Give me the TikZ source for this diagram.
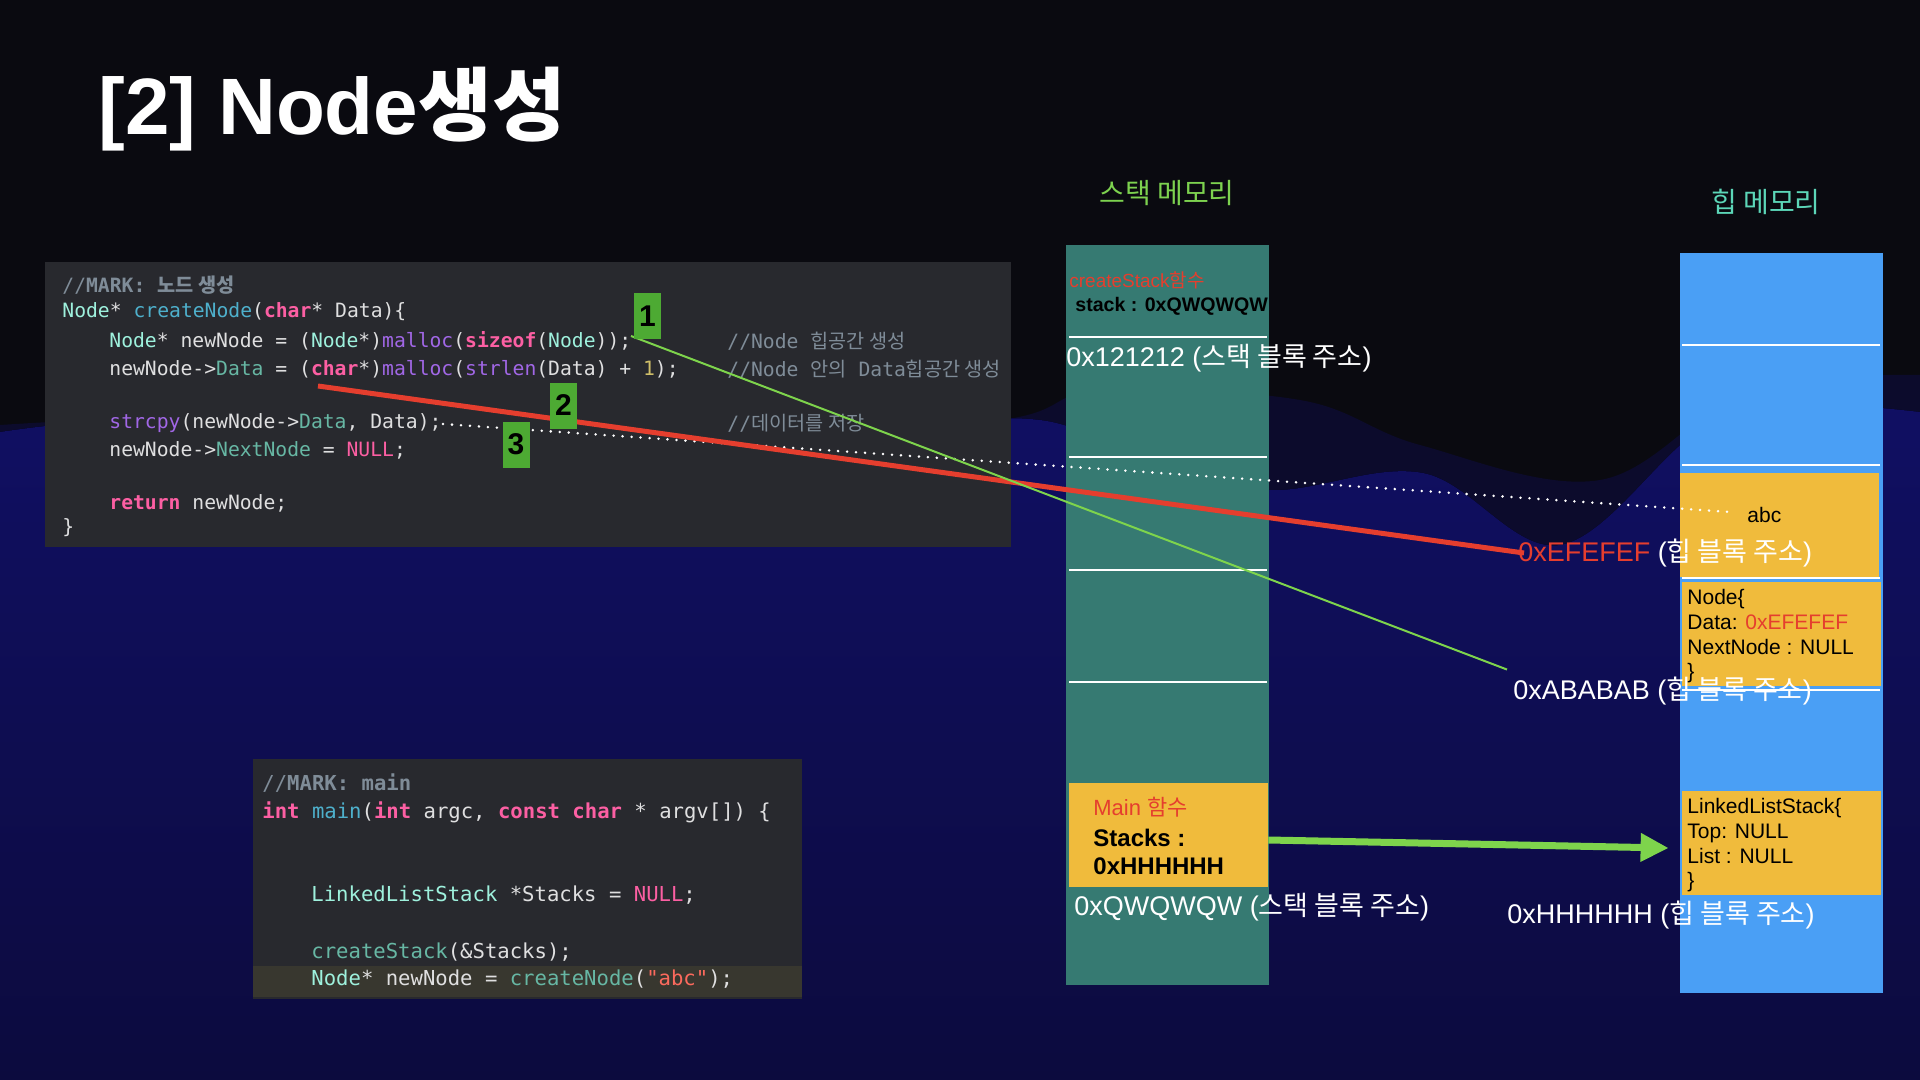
\documentclass[tikz,border=0pt]{standalone}
\usepackage{fontspec}
\setmainfont{Liberation Sans}
\newfontfamily\krfont{Noto Sans CJK KR}
\newfontfamily\codefont{DejaVu Sans Mono}
\usetikzlibrary{arrows.meta}

\definecolor{bgtop}{HTML}{0A0A10}
\definecolor{wavedim}{HTML}{0C0B2C}
\definecolor{wavetop}{HTML}{100F63}
\definecolor{wavebot}{HTML}{0C0B3E}
\definecolor{panel}{HTML}{28292E}
\definecolor{curline}{HTML}{38372F}
\definecolor{stackteal}{HTML}{367A72}
\definecolor{heapblue}{HTML}{4A9FF5}
\definecolor{blockyellow}{HTML}{F0BB3C}
\definecolor{labelred}{HTML}{E53E2E}
\definecolor{linkgreen}{HTML}{7ED44C}
\definecolor{boxgreen}{HTML}{4DAA33}
\definecolor{stacktitle}{HTML}{7DD24F}
\definecolor{heaptitle}{HTML}{5CD6B8}
% editor colours
\definecolor{xplain}{HTML}{DFDFE0}
\definecolor{xcomment}{HTML}{7F8C98}
\definecolor{xkeyword}{HTML}{FC5FA3}
\definecolor{xtype}{HTML}{9EF1DD}
\definecolor{xdecl}{HTML}{4EB0CC}
\definecolor{xproj}{HTML}{67B7A4}
\definecolor{xfunc}{HTML}{A167E6}
\definecolor{xnum}{HTML}{D0BF69}
\definecolor{xstring}{HTML}{FC6A5D}

\newcommand{\hg}[1]{{\krfont #1}}
\newcommand{\ckw}[1]{\textcolor{xkeyword}{\bfseries #1}}
\newcommand{\cmac}[1]{\textcolor{xkeyword}{#1}}
\newcommand{\cty}[1]{\textcolor{xtype}{#1}}
\newcommand{\cdc}[1]{\textcolor{xdecl}{#1}}
\newcommand{\cpf}[1]{\textcolor{xproj}{#1}}
\newcommand{\cfn}[1]{\textcolor{xfunc}{#1}}
\newcommand{\cnum}[1]{\textcolor{xnum}{#1}}
\newcommand{\cstr}[1]{\textcolor{xstring}{#1}}
\newcommand{\ccom}[1]{\textcolor{xcomment}{#1}}
\newcommand{\cmark}[1]{\textcolor{xcomment}{//{\bfseries #1}}}

\begin{document}
\begin{tikzpicture}[
    x=0.5pt, y=-0.5pt,
    title/.style={anchor=base west, inner sep=0, text=white, font=\bfseries\fontsize{40}{40}\selectfont},
    memtitle/.style={inner sep=0, font=\krfont\fontsize{14}{14}\selectfont},
    codeline/.style={anchor=west, inner sep=0, text=xplain, font=\codefont\fontsize{9.85}{12}\selectfont},
    mainline/.style={codeline, font=\codefont\fontsize{10.3}{12}\selectfont},
    column/.style={inner sep=0, minimum width=101.5pt, minimum height=370pt},
    block/.style={fill=blockyellow, inner sep=0, minimum width=99.5pt, minimum height=52pt},
    sep/.style={white, line width=1pt},
    addr/.style={anchor=west, inner sep=0, text=white, font=\fontsize{13.5}{13.5}\selectfont},
    blocktext/.style={anchor=north west, inner sep=0, align=left, font=\fontsize{10.5}{12.35}\selectfont},
    numbox/.style={fill=boxgreen, minimum width=13.5pt, minimum height=23pt, inner sep=0, text=black, font=\bfseries\fontsize{15}{15}\selectfont},
    nodelink/.style={linkgreen, line width=1pt},
    datalink/.style={labelred, line width=2.5pt},
    strlink/.style={white, line width=1.4pt, line cap=round, dash pattern=on 0pt off 4.5pt},
    stacklink/.style={linkgreen, line width=3.5pt, -{Triangle[length=14pt,width=13.5pt]}}
]
    \useasboundingbox (0,0) rectangle (1920,1080);

    % Background
    \fill[bgtop] (0,0) rectangle (1920,1080);
    \fill[wavedim] (0,1080) -- plot[smooth, tension=0.6] coordinates {(0,425) (300,415) (700,440) (1000,420) (1100,390) (1300,400) (1420,445) (1600,480) (1750,390) (1920,375)} -- (1920,1080) -- cycle;
    \fill[top color=wavetop, bottom color=wavebot] (0,1080) -- plot[smooth, tension=0.6] coordinates {(0,432) (150,420) (350,445) (600,470) (900,430) (1040,420) (1150,460) (1270,490) (1423,473) (1560,545) (1700,430) (1800,405) (1920,412)} -- (1920,1080) -- cycle;

    % Title
    \node[title] (title) at (98,135) {[2] Node\hg{생성}};

    % createNode code
    \fill[panel] (45,262) rectangle (1011,547);
    \node[codeline] (cn1) at (62,285) {\cmark{MARK: \hg{노드 생성}}};
    \node[codeline] (cn2) at (62,312) {\cty{Node}* \cdc{createNode}(\ckw{char}* Data)\{};
    \node[codeline] (cn3) at (109,341) {\cty{Node}* newNode = (\cty{Node}*)\cfn{malloc}(\ckw{sizeof}(\cty{Node}));};
    \node[codeline] (cn4) at (109,369) {newNode->\cpf{Data} = (\ckw{char}*)\cfn{malloc}(\cfn{strlen}(Data) + \cnum{1});};
    \node[codeline] (cn5) at (109,423) {\cfn{strcpy}(newNode->\cpf{Data}, Data);};
    \node[codeline] (cn6) at (109,450) {newNode->\cpf{NextNode} = \cmac{NULL};};
    \node[codeline] (cn7) at (109,503) {\ckw{return} newNode;};
    \node[codeline] (cn8) at (62,528) {\}};
    \node[codeline] (cm1) at (727,341) {\ccom{//Node \hg{힙공간 생성}}};
    \node[codeline] (cm2) at (727,369) {\ccom{//Node \hg{안의} Data\hg{힙공간 생성}}};
    \node[codeline] (cm3) at (727,423) {\ccom{//\hg{데이터를 저장}}};

    % main code
    \fill[panel] (253,759) rectangle (802,999);
    \fill[curline] (253,966) rectangle (802,997);
    \node[mainline] (mn1) at (262,783) {\cmark{MARK: main}};
    \node[mainline] (mn2) at (262,812) {\ckw{int} \cdc{main}(\ckw{int} argc, \ckw{const} \ckw{char} * argv[]) \{};
    \node[mainline] (mn3) at (311,895) {\cty{LinkedListStack} *Stacks = \cmac{NULL};};
    \node[mainline] (mn4) at (311,952) {\cpf{createStack}(\&Stacks);};
    \node[mainline] (mn5) at (311,979) {\cty{Node}* newNode = \cpf{createNode}(\cstr{"abc"});};

    % Stack memory
    \node[memtitle, text=stacktitle] (stacktitle) at (1167,193) {스택 메모리};
    \node[column, fill=stackteal] (stackcol) at (1167.5,615) {};
    \foreach \y in {337,457,570,682}
        \draw[sep] (1069,\y) -- (1267,\y);
    \node[anchor=west, inner sep=0, text=labelred, font=\fontsize{9.5}{9.5}\selectfont] (csname) at (1069,280) {createStack\hg{함수}};
    \node[anchor=west, inner sep=0, font=\bfseries\fontsize{9.8}{9.8}\selectfont] (csvar) at (1075,306) {stack : 0xQWQWQW};
    \node[addr] (stackaddr) at (1066,358) {0x121212 (\hg{스택 블록 주소})};
    \node[block] (mainbox) at (1168.5,835) {};
    \node[anchor=west, inner sep=0, text=labelred, font=\fontsize{11}{11}\selectfont] (mainname) at (1093,807) {Main \hg{함수}};
    \node[anchor=west, inner sep=0, font=\bfseries\fontsize{12}{12}\selectfont] (mainvar) at (1093,838) {Stacks :};
    \node[anchor=west, inner sep=0, font=\bfseries\fontsize{12}{12}\selectfont] (mainval) at (1093,866) {0xHHHHHH};
    \node[addr] (mainaddr) at (1074,907) {0xQWQWQW (\hg{스택 블록 주소})};

    % Heap memory
    \node[memtitle, text=heaptitle] (heaptitle) at (1766,202) {힙 메모리};
    \node[column, fill=heapblue] (heapcol) at (1781.5,623) {};
    \foreach \y in {345,465,578,690}
        \draw[sep] (1682,\y) -- (1880,\y);
    \node[block] (abcbox) at (1779,525) {};
    \node[block] (nodebox) at (1781.5,634) {};
    \node[block] (lls) at (1781.5,843) {};
    \node[anchor=west, inner sep=0, font=\fontsize{10.5}{10.5}\selectfont] (abc) at (1747,515) {abc};
    \node[blocktext] (nodetext) at (1687,589) {Node\{\\Data: \textcolor{labelred}{0xEFEFEF}\\NextNode : NULL\\\}};
    \node[blocktext] (llstext) at (1687,798) {LinkedListStack\{\\Top: NULL\\List : NULL\\\}};

    % Links from the code
    \coordinate (c1) at (631,336);
    \coordinate (c2) at (318,386);
    \coordinate (c3) at (443,424);
    \node[addr] (efaddr) at (1518,553) {\textcolor{labelred}{0xEFEFEF} (\hg{힙 블록 주소})};
    \node[addr] (abaddr) at (1513,691) {0xABABAB (\hg{힙 블록 주소})};
    \node[addr] (hhaddr) at (1507,915) {0xHHHHHH (\hg{힙 블록 주소})};
    \draw[strlink] (c3) -- ([xshift=-8.5pt,yshift=1.5pt]abc.west);
    \draw[datalink] (c2) -- ([xshift=3pt]efaddr.west);
    \draw[nodelink] (c1) -- ([xshift=-3pt,yshift=3.5pt]abaddr.north west);
    \draw[stacklink] ([yshift=-2.5pt]mainbox.east) -- ([xshift=-6.5pt,yshift=-2.5pt]lls.west);

    % Step numbers
    \node[numbox] (n1) at (647.5,316) {1};
    \node[numbox] (n2) at (563.5,405.5) {2};
    \node[numbox] (n3) at (516,444.5) {3};
\end{tikzpicture}
\end{document}
